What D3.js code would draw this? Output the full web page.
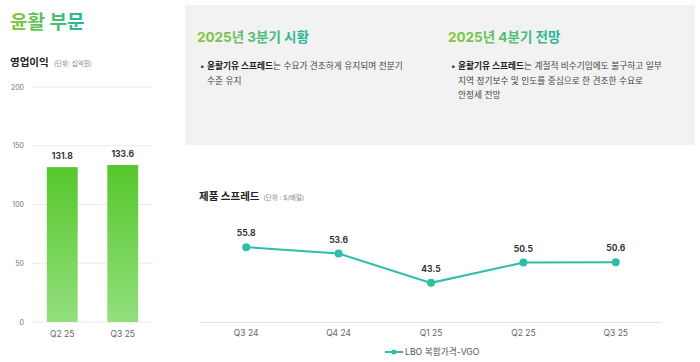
<!DOCTYPE html>
<html>
<head>
<meta charset="utf-8">
<script src="https://cdn.jsdelivr.net/npm/d3@7"></script>
<style>
  body { margin: 0; background: #fff; font-family: Inter, "Noto Sans CJK KR", "Noto Sans", sans-serif; }
  svg { display: block; }
</style>
</head>
<body>
<svg id="chart" width="700" height="362"></svg>
<script>
// operating profit (bars)
var barCats = ["Q2 25", "Q3 25"];
var barValues = [131.8, 133.6];
var barTicks = [0, 50, 100, 150, 200];

// product spread (line)
var lineCats = ["Q3 24", "Q4 24", "Q1 25", "Q2 25", "Q3 25"];
var lineValues = [55.8, 53.6, 43.5, 50.5, 50.6];
var lineName = "LBO 복합가격-VGO";

var q3Title = "2025년 3분기 시황";
var q3Lines = [["윤활기유 스프레드", "는 수요가 견조하게 유지되며 전분기"], ["", "수준 유지"]];
var q4Title = "2025년 4분기 전망";
var q4Lines = [["윤활기유 스프레드", "는 계절적 비수기임에도 불구하고 일부"], ["", "지역 정기보수 및 인도를 중심으로 한 견조한 수요로"], ["", "안정세 전망"]];

var svg = d3.select("#chart");
var defs = svg.append("defs");

var tg = defs.append("linearGradient").attr("id", "titleGrad")
    .attr("x1", "0%").attr("x2", "100%").attr("y1", "0%").attr("y2", "0%");
tg.append("stop").attr("offset", "0%").attr("stop-color", "#8cc63e");
tg.append("stop").attr("offset", "100%").attr("stop-color", "#22b59b");

var bg = defs.append("linearGradient").attr("id", "barGrad")
    .attr("x1", "0%").attr("x2", "0%").attr("y1", "0%").attr("y2", "100%");
bg.append("stop").attr("offset", "0%").attr("stop-color", "#55c72c");
bg.append("stop").attr("offset", "100%").attr("stop-color", "#93df7d");

// title
svg.append("text").attr("x", 10).attr("y", 29)
    .attr("font-size", 19).attr("font-weight", 700)
    .attr("fill", "url(#titleGrad)").text("윤활 부문");

svg.append("text").attr("x", 10).attr("y", 66)
    .attr("font-size", 10.5).attr("font-weight", 700).attr("fill", "#222")
    .text("영업이익")
    .append("tspan").attr("dx", 5).attr("font-size", 6.5).attr("font-weight", 400)
    .attr("fill", "#888").text("(단위: 십억원)");

// bar chart
var y1 = d3.scaleLinear().domain([0, 200]).range([322, 87]);
var x1 = d3.scaleBand().domain(barCats).range([32, 153]).paddingInner(0.49).paddingOuter(0.245);

var bar = svg.append("g");
bar.selectAll(".grid").data(barTicks).enter().append("line")
    .attr("x1", 32).attr("x2", 153)
    .attr("y1", function (d) { return y1(d); })
    .attr("y2", function (d) { return y1(d); })
    .attr("stroke", "#ececec").attr("stroke-width", 1);

bar.selectAll(".ytick").data(barTicks).enter().append("text")
    .attr("x", 24).attr("y", function (d) { return y1(d) + 2.5; })
    .attr("text-anchor", "end").attr("font-size", 7).attr("fill", "#777")
    .text(function (d) { return d; });

bar.selectAll("rect").data(barValues).enter().append("rect")
    .attr("x", function (d, i) { return x1(barCats[i]); })
    .attr("width", x1.bandwidth())
    .attr("y", function (d) { return y1(d); })
    .attr("height", function (d) { return y1(0) - y1(d); })
    .attr("fill", "url(#barGrad)");

bar.selectAll(".val").data(barValues).enter().append("text")
    .attr("x", function (d, i) { return x1(barCats[i]) + x1.bandwidth() / 2; })
    .attr("y", function (d) { return y1(d) - 8; })
    .attr("text-anchor", "middle").attr("font-size", 8.5).attr("font-weight", 700).attr("fill", "#333")
    .text(function (d) { return d.toFixed(1); });

bar.selectAll(".xl").data(barCats).enter().append("text")
    .attr("x", function (d) { return x1(d) + x1.bandwidth() / 2; })
    .attr("y", 337).attr("text-anchor", "middle").attr("font-size", 8.5).attr("fill", "#666")
    .text(function (d) { return d; });

// grey panel
svg.append("rect").attr("x", 185).attr("y", 5).attr("width", 510).attr("height", 140).attr("fill", "#f2f2f2");

function block(x, title, lines) {
    svg.append("text").attr("x", x).attr("y", 42)
        .attr("font-size", 13.5).attr("font-weight", 700).attr("fill", "url(#titleGrad)").text(title);
    svg.append("text").attr("x", x + 3).attr("y", 69).attr("font-size", 8).attr("fill", "#333").text("•");
    lines.forEach(function (l, i) {
        var t = svg.append("text").attr("x", x + 10).attr("y", 69 + i * 14.5)
            .attr("font-size", 8.7).attr("fill", "#444");
        if (l[0]) t.append("tspan").attr("font-weight", 700).attr("fill", "#222").text(l[0]);
        t.append("tspan").text(l[1]);
    });
}
block(197, q3Title, q3Lines);
block(448, q4Title, q4Lines);

// line chart
svg.append("text").attr("x", 199).attr("y", 200)
    .attr("font-size", 10.5).attr("font-weight", 700).attr("fill", "#222")
    .text("제품 스프레드")
    .append("tspan").attr("dx", 4).attr("font-size", 6.5).attr("font-weight", 400)
    .attr("fill", "#888").text("(단위 : $/배럴)");

var x2 = d3.scalePoint().domain(lineCats).range([200, 662]).padding(0.5);
var y2 = d3.scaleLinear().domain([30, 70]).range([322, 206]);
var teal = "#2cbfa6";

var lc = svg.append("g");
lc.append("line").attr("x1", 200).attr("x2", 662).attr("y1", 322.5).attr("y2", 322.5)
    .attr("stroke", "#e3e3e3").attr("stroke-width", 1);

var line = d3.line()
    .x(function (d, i) { return x2(lineCats[i]); })
    .y(function (d) { return y2(d); });

lc.append("path").datum(lineValues).attr("d", line)
    .attr("fill", "none").attr("stroke", teal).attr("stroke-width", 2);

lc.selectAll("circle").data(lineValues).enter().append("circle")
    .attr("cx", function (d, i) { return x2(lineCats[i]); })
    .attr("cy", function (d) { return y2(d); })
    .attr("r", 4).attr("fill", teal);

lc.selectAll(".val").data(lineValues).enter().append("text")
    .attr("x", function (d, i) { return x2(lineCats[i]); })
    .attr("y", function (d) { return y2(d) - 11; })
    .attr("text-anchor", "middle").attr("font-size", 8.5).attr("font-weight", 700).attr("fill", "#333")
    .text(function (d) { return d.toFixed(1); });

lc.selectAll(".xl").data(lineCats).enter().append("text")
    .attr("x", function (d) { return x2(d); })
    .attr("y", 336).attr("text-anchor", "middle").attr("font-size", 8.5).attr("fill", "#666")
    .text(function (d) { return d; });

// legend
var lg = svg.append("g");
lg.append("line").attr("x1", 385).attr("x2", 403).attr("y1", 352).attr("y2", 352)
    .attr("stroke", teal).attr("stroke-width", 2);
lg.append("circle").attr("cx", 394).attr("cy", 352).attr("r", 2.5).attr("fill", teal);
lg.append("text").attr("x", 405).attr("y", 355).attr("font-size", 8.7).attr("fill", "#555").text(lineName);
</script>
</body>
</html>
